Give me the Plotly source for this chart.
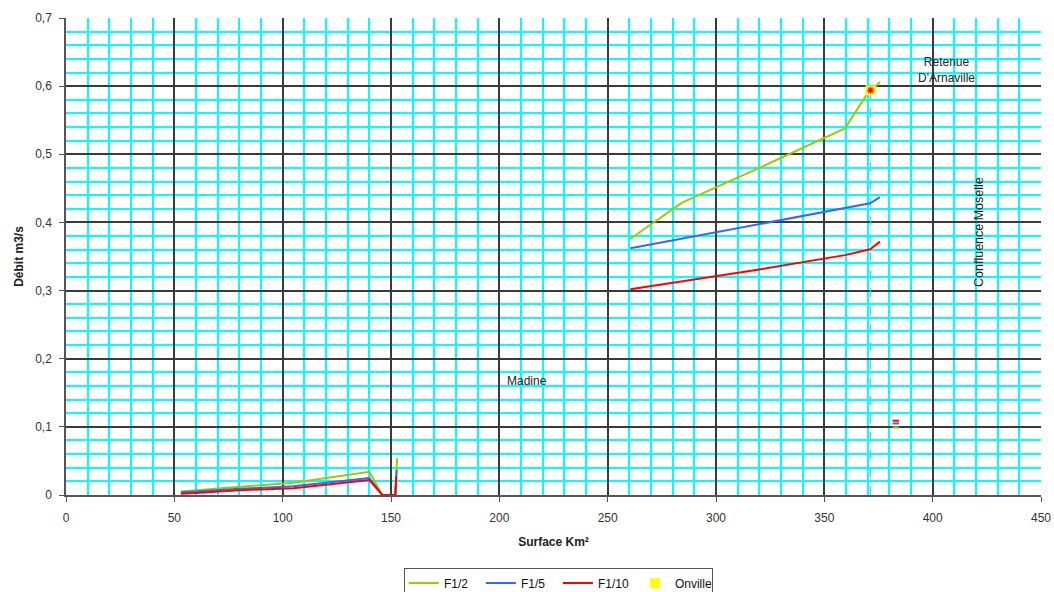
import plotly.graph_objects as go

# ---- data ----
f12_x = [53, 60, 80, 105, 120, 140, 146, 152, 152.8, None, 381.5, 384.5,
         None, 260.5, 284.3, 320, 359.5, 369.5, 375.7]
f12_y = [0.005, 0.007, 0.012, 0.018, 0.025, 0.034, 0.0, 0.0, 0.054, None, 0.099, 0.099,
         None, 0.376, 0.429, 0.480, 0.538, 0.587, 0.606]

f15_x = [53, 60, 80, 105, 120, 140, 146, 152, 152.6, None, 381.5, 384.5,
         None, 260.5, 320, 371.1, 375.7]
f15_y = [0.004, 0.005, 0.009, 0.013, 0.018, 0.025, 0.0, 0.0, 0.037, None, 0.105, 0.105,
         None, 0.362, 0.397, 0.428, 0.437]

f110_x = [53, 60, 80, 105, 120, 140, 146, 152, 152.4, None, 381.5, 384.5,
          None, 260.5, 320, 359.5, 371.1, 375.7]
f110_y = [0.002, 0.003, 0.007, 0.010, 0.015, 0.022, 0.0, 0.0, 0.027, None, 0.109, 0.109,
          None, 0.302, 0.331, 0.352, 0.3606, 0.3718]

onville_x = [371.3]
onville_y = [0.594]

y_ticks = [0, 0.1, 0.2, 0.3, 0.4, 0.5, 0.6, 0.7]
y_labels = ["0", "0,1", "0,2", "0,3", "0,4", "0,5", "0,6", "0,7"]
x_ticks = [0, 50, 100, 150, 200, 250, 300, 350, 400, 450]

x_minor = [10 * i for i in range(46) if i % 5]
y_minor = [round(0.02 * i, 2) for i in range(36) if i % 5]

FONT = "Liberation Sans, Arial, sans-serif"

fig = go.Figure()

# dashed drop line from Onville
fig.add_trace(go.Scatter(x=[onville_x[0], onville_x[0]], y=[onville_y[0], 0],
                         mode="lines", line=dict(color="#33DDEE", width=1.2, dash="dash"),
                         showlegend=False, hoverinfo="skip"))

fig.add_trace(go.Scatter(x=f12_x, y=f12_y, name="F1/2", mode="lines",
                         line=dict(color="#99CC00", width=2)))
fig.add_trace(go.Scatter(x=f15_x, y=f15_y, name="F1/5", mode="lines",
                         line=dict(color="#3366FF", width=2)))
fig.add_trace(go.Scatter(x=f110_x, y=f110_y, name="F1/10", mode="lines",
                         line=dict(color="#FF0000", width=2)))
fig.add_trace(go.Scatter(x=onville_x, y=onville_y, name="Onville", mode="markers",
                         legendgroup="onv",
                         marker=dict(symbol="square", color="#FFFF00", size=10,
                                     line=dict(width=0))))
fig.add_trace(go.Scatter(x=onville_x, y=onville_y, mode="markers", showlegend=False,
                         legendgroup="onv",
                         marker=dict(symbol="asterisk-open", color="#FF0000", size=6,
                                     line=dict(color="#FF0000", width=1.2))))

fig.add_annotation(x=212.8, y=0.167, text="Madine", showarrow=False,
                   font=dict(family=FONT, size=12, color="#222"))
fig.add_annotation(x=406.6, y=0.623, text="Retenue<br>D'Arnaville", showarrow=False,
                   font=dict(family=FONT, size=12, color="#222"))
fig.add_annotation(x=421.4, y=0.386, text="Confluence Moselle", showarrow=False,
                   textangle=-90, font=dict(family=FONT, size=12.5, color="#222"))

fig.update_layout(
    width=1054, height=592,
    margin=dict(l=66, r=13, t=18, b=97, autoexpand=False),
    paper_bgcolor="white", plot_bgcolor="white",
    font=dict(family=FONT, size=12, color="#333"),
    showlegend=True,
    legend=dict(orientation="h", x=0.505, xanchor="center", y=-0.152, yanchor="top",
                bordercolor="#555", borderwidth=1, bgcolor="white",
                font=dict(family=FONT, size=12, color="#111"),
                entrywidth=32, tracegroupgap=0),
    xaxis=dict(range=[0, 450], tickvals=x_ticks, ticktext=[str(v) for v in x_ticks],
               showgrid=True, gridcolor="#3a3a3a", gridwidth=1.5,
               minor=dict(tickvals=x_minor, showgrid=True, gridcolor="#00FFFF", gridwidth=1.5),
               showline=True, linecolor="#555", linewidth=1.5,
               ticks="outside", ticklen=5, tickcolor="#555", ticklabelstandoff=6,
               ticklabeloverflow="allow",
               zeroline=False, automargin=False,
               title=dict(text="<b>Surface Km²</b>", font=dict(family=FONT, size=12, color="#222"),
                          standoff=13)),
    yaxis=dict(range=[0, 0.7], tickvals=y_ticks, ticktext=y_labels,
               showgrid=True, gridcolor="#3a3a3a", gridwidth=1.5,
               minor=dict(tickvals=y_minor, showgrid=True, gridcolor="#00FFFF", gridwidth=1.5),
               showline=True, linecolor="#555", linewidth=1.5,
               ticks="outside", ticklen=5, tickcolor="#555", ticklabelstandoff=5,
               zeroline=False, automargin=False,
               title=dict(text="<b>Débit m3/s</b>", font=dict(family=FONT, size=12, color="#222"),
                          standoff=9)),
)

# remove the default page margin so the figure fills the 1054x592 window exactly
fig.write_html("out.html", config={"displayModeBar": False},
               post_script="document.body.style.margin='0px';document.body.style.overflow='hidden';")
